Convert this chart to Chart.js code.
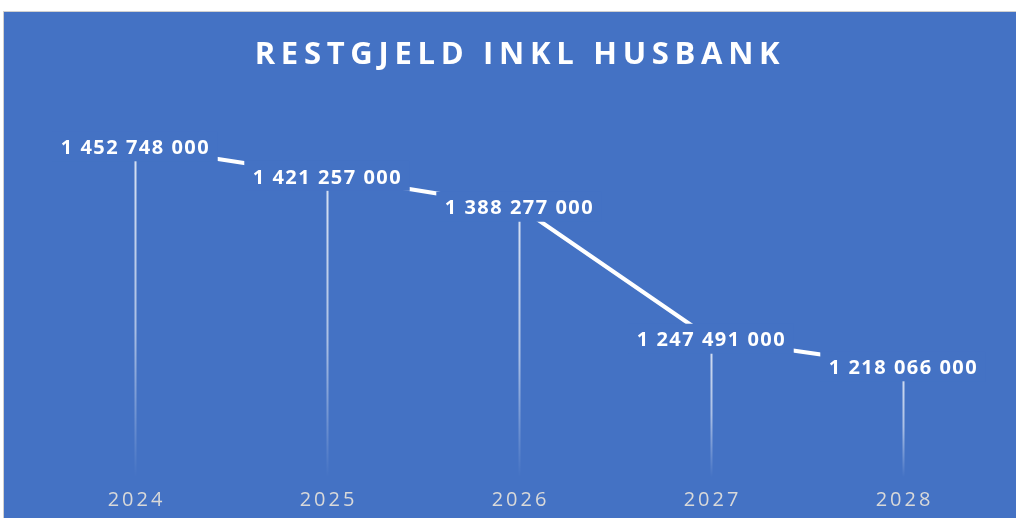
<!DOCTYPE html>
<html>
<head>
<meta charset="utf-8">
<script src="https://cdn.jsdelivr.net/npm/chart.js@4/dist/chart.umd.min.js"></script>
<style>
  html, body { margin: 0; padding: 0; background: #fff; }
  #wrap { position: absolute; left: 3px; top: 11px; width: 1013px; height: 507px;
          border-left: 1px solid #d0d0d0; border-top: 1px solid #d0d0d0; }
  canvas { display: block; }
</style>
</head>
<body>
<div id="wrap"><canvas id="lineChart" width="1012" height="506"></canvas></div>
<script>
  // data
  var years = ["2024", "2025", "2026", "2027", "2028"];
  var restgjeld = [1452748000, 1421257000, 1388277000, 1247491000, 1218066000];
  var yMin = 1100000000;
  var yMax = 1500000000;
  var title = "RESTGJELD INKL HUSBANK";

  var bg = "#4472C4";

  function fmt(v) {
    return String(v).replace(/\B(?=(\d{3})+(?!\d))/g, " ");
  }

  var excelLook = {
    id: "excelLook",
    beforeDraw: function (chart) {
      var c = chart.ctx;
      c.save();
      c.fillStyle = bg;
      c.fillRect(0, 0, chart.width, chart.height);
      c.restore();
    },
    beforeDatasetsDraw: function (chart) {
      // drop lines
      var c = chart.ctx, area = chart.chartArea;
      var meta = chart.getDatasetMeta(0);
      c.save();
      meta.data.forEach(function (pt) {
        var g = c.createLinearGradient(0, pt.y, 0, area.bottom);
        g.addColorStop(0, "rgba(255,255,255,0.8)");
        g.addColorStop(0.55, "rgba(255,255,255,0.55)");
        g.addColorStop(1, "rgba(255,255,255,0)");
        c.strokeStyle = g;
        c.lineWidth = 2;
        c.beginPath();
        c.moveTo(Math.round(pt.x) + 0.5, pt.y);
        c.lineTo(Math.round(pt.x) + 0.5, area.bottom);
        c.stroke();
      });
      c.restore();
    },
    afterDatasetsDraw: function (chart) {
      var c = chart.ctx, area = chart.chartArea;
      var meta = chart.getDatasetMeta(0);
      c.save();
      // data labels
      c.font = "bold 20px 'Open Sans'";
      c.letterSpacing = "1.5px";
      c.textAlign = "center";
      c.textBaseline = "middle";
      meta.data.forEach(function (pt, i) {
        var txt = fmt(restgjeld[i]);
        var w = c.measureText(txt).width;
        c.fillStyle = bg;
        c.fillRect(pt.x - w / 2 - 8, pt.y - 15, w + 16, 30);
        c.fillStyle = "#ffffff";
        c.fillText(txt, pt.x + 0.5, pt.y + 2);
      });
      // x labels
      c.font = "20px 'Open Sans'";
      c.letterSpacing = "3px";
      c.fillStyle = "#d9d9d9";
      var xs = chart.scales.x;
      years.forEach(function (y, i) {
        c.fillText(y, xs.getPixelForTick(i) + 1.5, area.bottom + 23);
      });
      // title
      c.font = "bold 31px 'Open Sans'";
      c.letterSpacing = "5.7px";
      c.fillStyle = "#ffffff";
      c.fillText(title, 516, 43);
      c.restore();
    }
  };

  var ctx = document.getElementById("lineChart");
  var lineChart = new Chart(ctx, {
    type: "line",
    data: {
      labels: years,
      datasets: [{
        label: title,
        data: restgjeld,
        borderColor: "#ffffff",
        borderWidth: 4,
        pointRadius: 0,
        fill: false,
        tension: 0
      }]
    },
    options: {
      responsive: false,
      animation: false,
      layout: { padding: { left: 35, right: 17, top: 90, bottom: 41 } },
      plugins: {
        legend: { display: false },
        tooltip: { enabled: false }
      },
      scales: {
        x: { display: false, offset: true },
        y: { display: false, min: yMin, max: yMax }
      }
    },
    plugins: [excelLook]
  });
</script>
</body>
</html>
